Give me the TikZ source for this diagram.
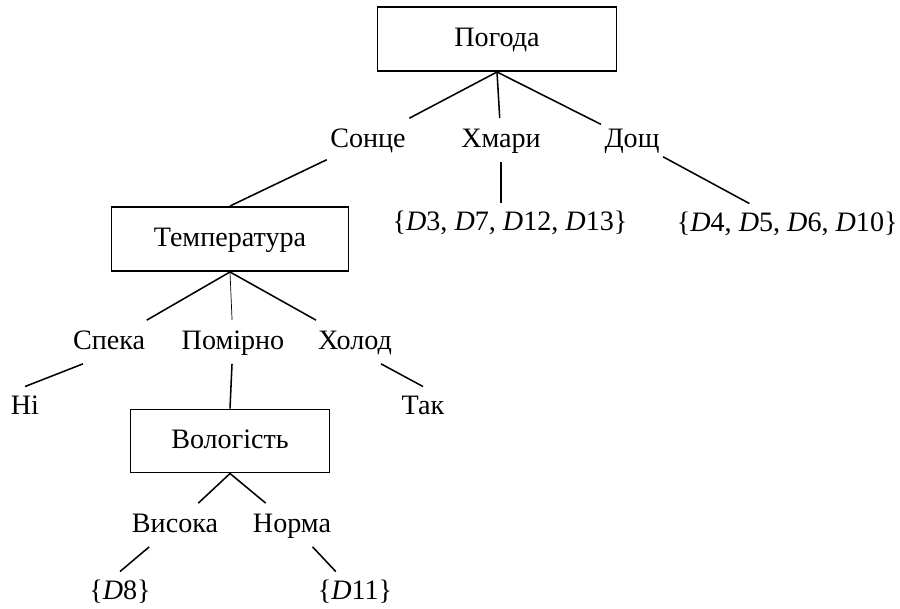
\documentclass[tikz,border=0pt]{standalone}
\usepackage{fontspec}
\setmainfont{Liberation Serif}
\begin{document}
\begin{tikzpicture}[line width=1.1pt,
        every node/.style={font=\fontsize{20}{24}\selectfont, text height=14pt, text depth=4pt},
        attrbox/.style={draw, line width=1.4pt, minimum height=1.6cm, inner sep=0pt},
        val/.style={inner xsep=2pt, inner ysep=6pt},
        leaf/.style={inner xsep=2pt, inner ysep=5pt}]
            \useasboundingbox (0,0) rectangle (22.5,-15.225);
            \node[attrbox, minimum width=5.975cm] (pogoda) at (12.425,-0.975) {Погода};
            \node[val] (sonce) at (9.2,-3.5) {Сонце};
            \node[val] (hmary) at (12.525,-3.5) {Хмари};
            \node[val] (doshch) at (15.8,-3.5) {Дощ};
            \node[attrbox, minimum width=5.925cm] (temp) at (5.75,-5.975) {Температура};
            \node[leaf] (set3) at (12.75,-5.575) {\{\textit{D}3, \textit{D}7, \textit{D}12, \textit{D}13\}};
            \node[leaf] (set4) at (19.68,-5.6) {\{\textit{D}4, \textit{D}5, \textit{D}6, \textit{D}10\}};
            \node[val] (speka) at (2.725,-8.55) {Спека};
            \node[val] (pomirno) at (5.825,-8.55) {Помірно};
            \node[val] (holod) at (8.875,-8.55) {Холод};
            \node[leaf] (ni) at (0.625,-10.175) {Ні};
            \node[leaf] (tak) at (10.575,-10.175) {Так};
            \node[attrbox, minimum width=4.975cm, minimum height=1.575cm] (volog) at (5.75,-11.025) {Вологість};
            \node[val] (vysoka) at (4.375,-13.125) {Висока};
            \node[val] (norma) at (7.3,-13.125) {Норма};
            \node[leaf] (set8) at (3.0,-14.8) {\{\textit{D}8\}};
            \node[leaf] (set11) at (8.875,-14.8) {\{\textit{D}11\}};

            \draw (pogoda.south) -- (sonce);
            \draw (pogoda.south) -- (hmary);
            \draw (pogoda.south) -- (doshch);
            \draw (sonce) -- (temp.north);
            \draw (hmary) -- (hmary |- set3.north);
            \draw (doshch) -- (set4);
            \draw (temp.south) -- (speka);
            \draw[line width=0.5pt] (temp.south) -- (pomirno);
            \draw (temp.south) -- (holod);
            \draw (speka.220) -- (ni.north);
            \draw (holod.320) -- (tak.north);
            \draw (pomirno) -- (volog.north);
            \draw (volog.south) -- (vysoka);
            \draw (volog.south) -- (norma);
            \draw (vysoka) -- (set8.north);
            \draw (norma) -- (set11);
        \end{tikzpicture}
\end{document}
